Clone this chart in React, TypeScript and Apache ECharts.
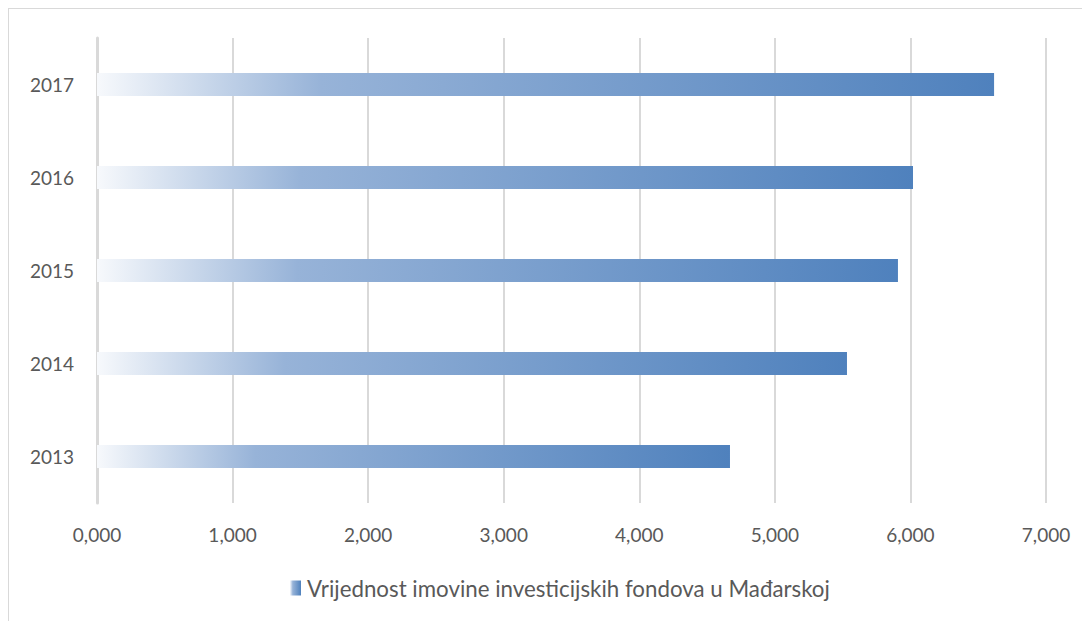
import React, { useEffect, useRef } from "react";
import * as echarts from "echarts";

const categories = ["2013", "2014", "2015", "2016", "2017"];
const values = [4.669, 5.532, 5.908, 6.019, 6.617];
const seriesName = "Vrijednost imovine investicijskih fondova u Mađarskoj";
const xTicks = [0, 1, 2, 3, 4, 5, 6, 7];

export default function App() {
  const ref = useRef<HTMLDivElement>(null);
  useEffect(() => {
    if (!ref.current) return;
    const chart = echarts.init(ref.current, undefined, { renderer: "svg" });
    const grad = new echarts.graphic.LinearGradient(0, 0, 1, 0, [
      { offset: 0, color: "#f7f9fc" },
      { offset: 0.25, color: "#97b3d8" },
      { offset: 1, color: "#4f81bd" },
    ]);
    chart.setOption({
      animation: false,
      textStyle: { fontFamily: "Lato" },
      grid: { left: 88, top: 29, width: 949, height: 465, containLabel: false },
      legend: {
        data: [{ name: seriesName, icon: "rect" }],
        top: 568,
        left: 281,
        padding: 0,
        itemWidth: 11,
        itemHeight: 15,
        itemGap: 10,
        textStyle: { color: "#595959", fontSize: 22.3, fontFamily: "Lato", padding: [0, 0, 0, 1] },
      },
      xAxis: {
        type: "value",
        min: xTicks[0],
        max: xTicks[xTicks.length - 1],
        interval: 1,
        axisLine: { show: false },
        axisTick: { show: false },
        splitLine: { show: true, lineStyle: { color: "#d9d9d9", width: 2 } },
        axisLabel: {
          color: "#595959",
          fontSize: 19,
          margin: 22,
          formatter: (v: number) => v.toFixed(3).replace(".", ","),
        },
      },
      yAxis: {
        type: "category",
        data: categories,
        axisLine: { show: true, lineStyle: { color: "#d9d9d9", width: 3 } },
        axisTick: { show: false },
        axisLabel: { color: "#595959", fontSize: 19, margin: 23 },
      },
      series: [
        {
          name: seriesName,
          type: "bar",
          data: values,
          barWidth: 23,
          itemStyle: { color: grad },
        },
      ],
    });
    return () => chart.dispose();
  }, []);
  return (
    <div
      style={{
        borderTop: "1px solid #d9d9d9",
        borderLeft: "1px solid #d9d9d9",
        width: 1081,
        height: 612,
        overflow: "hidden",
      }}
    >
      <div ref={ref} style={{ width: 1081, height: 612 }} />
    </div>
  );
}
